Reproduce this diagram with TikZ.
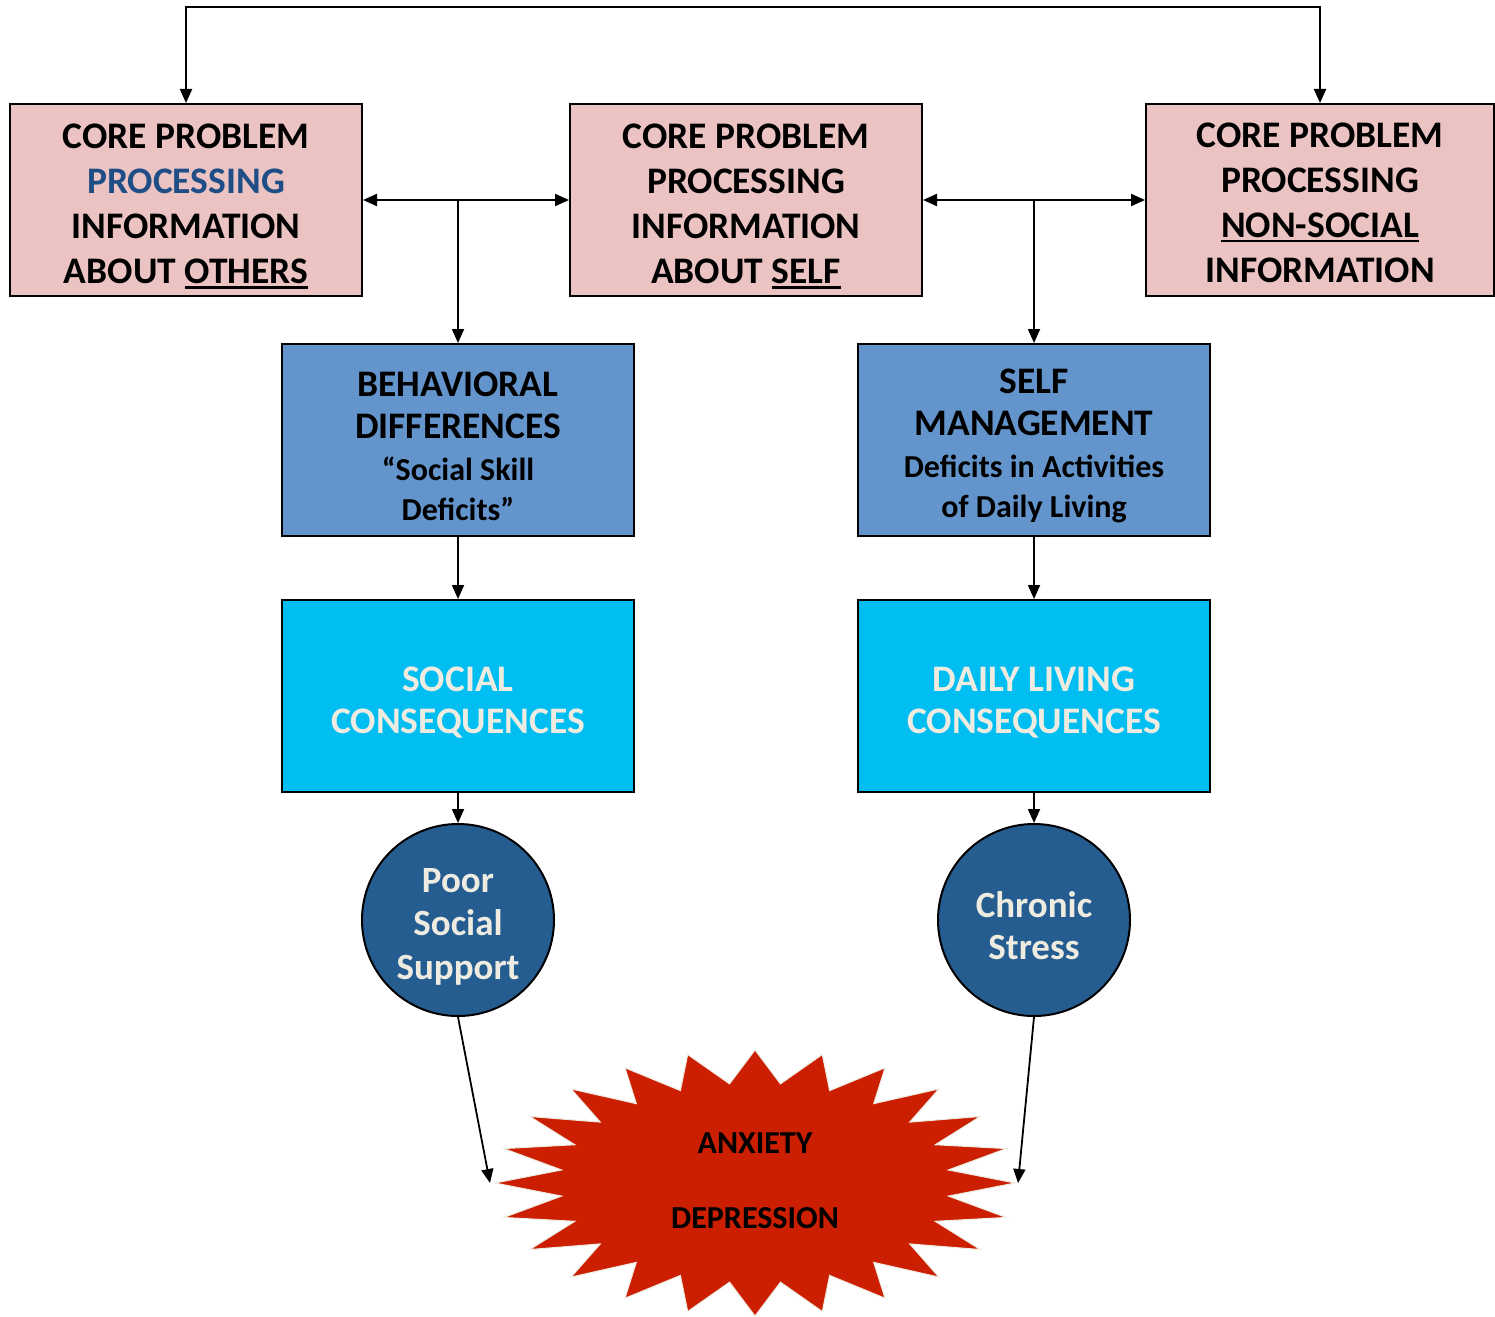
\documentclass[tikz,border=0pt]{standalone}
\usepackage{fontspec}
\setmainfont{Carlito}
\usetikzlibrary{arrows.meta}
\definecolor{pinkfill}{HTML}{EAC3C2}
\definecolor{procblue}{HTML}{1F4E87}
\definecolor{midblue}{HTML}{6395CC}
\definecolor{cyanfill}{HTML}{00BEF2}
\definecolor{darkcirc}{HTML}{265D91}
\definecolor{cream}{HTML}{EEECE1}
\definecolor{starred}{HTML}{CC1E00}
\newcommand\myul[1]{\setbox0\hbox{#1}\rlap{\rule[-5pt]{\wd0}{2.5pt}}\box0}
\newcommand\toppad{\rule{0pt}{37pt}}
\begin{document}
\begin{tikzpicture}[x=1pt,y=-1pt,
  >={Triangle[length=14pt,width=12pt]},
  box/.style={draw=black, line width=2pt, minimum width=352pt, minimum height=192pt,
    align=center, inner sep=0pt, font=\bfseries\fontsize{37.5}{45}\selectfont},
  corebox/.style={box, fill=pinkfill},
  midbox/.style={box, fill=midblue, font=\bfseries\fontsize{37.5}{42}\selectfont},
  consbox/.style={box, fill=cyanfill, text=cream, font=\bfseries\fontsize{37.5}{42}\selectfont},
  circ/.style={circle, draw=black, line width=2pt, fill=darkcirc, minimum size=192pt,
    inner sep=0pt, align=center, text=cream, font=\bfseries\fontsize{37}{43.5}\selectfont},
  conn/.style={draw=black, line width=2pt},
  thin conn/.style={draw=black, line width=1.8pt},
]
\useasboundingbox (0,0) rectangle (1495,1316);

% top row
\node[corebox] (tl) at (186,200) {\toppad CORE PROBLEM\\\textcolor{procblue}{PROCESSING}\\INFORMATION\\ABOUT \myul{OTHERS}};
\node[corebox] (tm) at (746,200) {\toppad CORE PROBLEM\\PROCESSING\\INFORMATION\\ABOUT \myul{SELF}};
\node[corebox, minimum width=348pt] (tr) at (1320,200) {\rule{0pt}{30pt}CORE PROBLEM\\PROCESSING\\\myul{NON-SOCIAL}\\INFORMATION};

% second row
\node[midbox] (beh) at (458,440) {\toppad BEHAVIORAL\\DIFFERENCES\\{\fontsize{32}{40}\selectfont “Social Skill}\\[-2pt]{\fontsize{32}{40}\selectfont Deficits”}};
\node[midbox] (sm) at (1034,440) {\toppad SELF\\MANAGEMENT\\{\fontsize{32}{40}\selectfont Deficits in Activities}\\[-2pt]{\fontsize{32}{40}\selectfont of Daily Living}};

% third row
\node[consbox] (soc) at (458,696) {\toppad SOCIAL\\CONSEQUENCES};
\node[consbox] (dl) at (1034,696) {\toppad DAILY LIVING\\CONSEQUENCES};

% circles
\node[circ] (pss) at (458,920) {\toppad Poor\\Social\\Support};
\node[circ] (cs) at (1034,920) {\toppad Chronic\\[-2pt]Stress};

% starburst
\fill[starred, draw=cream, line width=1pt] (755,1050)
  \foreach \k in {1,...,47} {
    -- ({755+(isodd(\k) ? 195 : 260)*cos(90-7.5*\k)}, {1183-(isodd(\k) ? 100 : 133)*sin(90-7.5*\k)})
  } -- cycle;
\node[align=center, font=\bfseries\fontsize{32}{37.5}\selectfont] (star) at (755,1181) {ANXIETY\\[37.5pt]DEPRESSION};
\coordinate (sl) at (490,1183);
\coordinate (sr) at (1018,1183);

% connectors
\draw[conn,<->] (tl.north) -- ++(0,-96) -| (tr.north);
\draw[conn,<->] (tl.east) -- (tm.west);
\draw[conn,->] (beh.north |- tl.east) -- (beh.north);
\draw[conn,<->] (tm.east) -- (tr.west);
\draw[conn,->] (sm.north |- tm.east) -- (sm.north);
\draw[conn,->] (beh.south) -- (soc.north);
\draw[conn,->] (sm.south) -- (dl.north);
\draw[conn,->] (soc.south) -- (pss.north);
\draw[conn,->] (dl.south) -- (cs.north);
\draw[thin conn,->] (pss.south) -- (sl);
\draw[thin conn,->] (cs.south) -- (sr);
\end{tikzpicture}
\end{document}
